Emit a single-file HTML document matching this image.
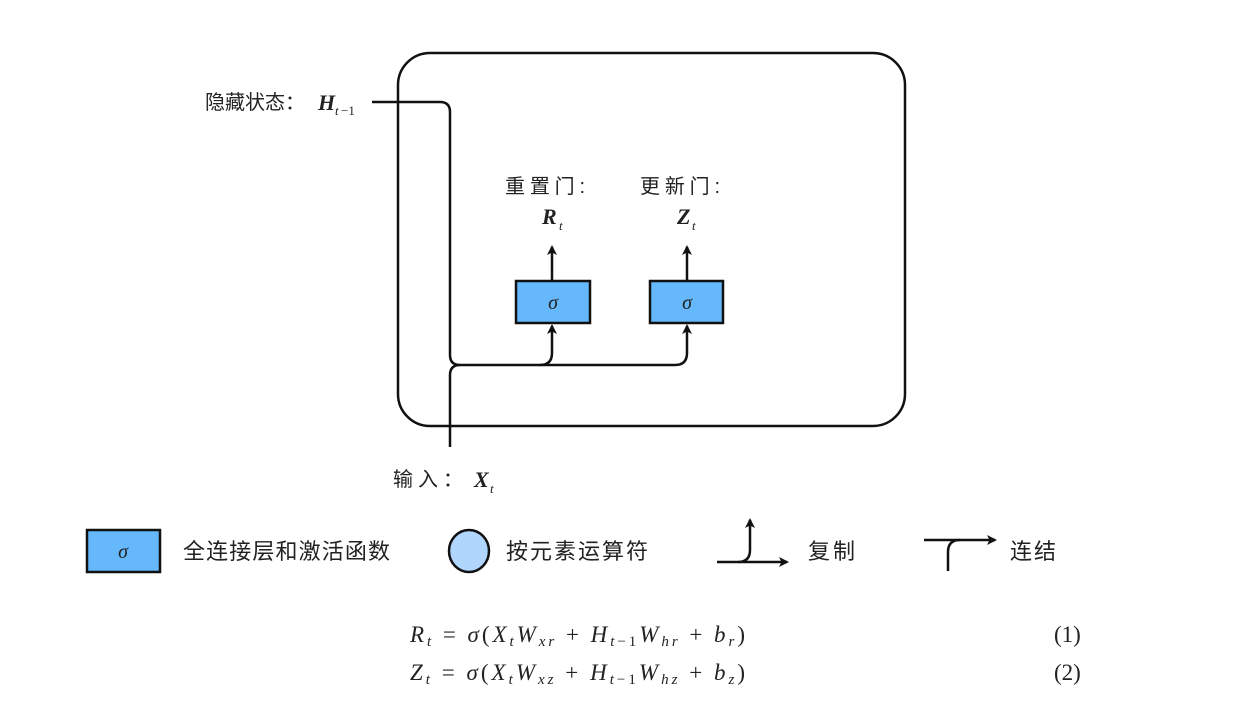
<!DOCTYPE html>
<html><head><meta charset="utf-8"><style>
body{margin:0;background:#fff;width:1242px;height:711px;overflow:hidden}
svg text{font-family:"Liberation Sans","Noto Sans CJK SC",sans-serif;fill:#222}
.m{font-family:"Liberation Serif",serif;font-style:italic;font-weight:bold}
.s{font-family:"Liberation Serif",serif;font-style:italic}
.e{font-family:"Liberation Serif",serif;font-size:23px}
</style></head><body>
<svg width="1242" height="711" viewBox="0 0 1242 711" xmlns="http://www.w3.org/2000/svg">
<defs><marker id="a" markerWidth="10" markerHeight="10" refX="8" refY="5" orient="auto" markerUnits="userSpaceOnUse"><path d="M0,0 L10,5 L0,10 L2.5,5Z" fill="#111"/></marker></defs>
<g fill="none" stroke="#111" stroke-width="2.5">
<rect x="398" y="53" width="507" height="373" rx="32"/>
<path d="M372,102 H440 Q450,102 450,112 V355 Q450,365 460,365 H540 Q552,365 552,353 V326" marker-end="url(#a)"/>
<path d="M540,365 H675 Q687,365 687,353 V326" marker-end="url(#a)"/>
<path d="M450,447 V375 Q450,365 460,365"/>
<path d="M552,281 V247" marker-end="url(#a)"/>
<path d="M687,281 V247" marker-end="url(#a)"/>
<path d="M717,562 H787" marker-end="url(#a)"/>
<path d="M738,562 Q750,562 750,550 V520" marker-end="url(#a)"/>
<path d="M924,540 H995" marker-end="url(#a)"/>
<path d="M948,571 V552 Q948,540 960,540"/>
</g>
<g fill="#64b8fb" stroke="#111" stroke-width="2.5">
<rect x="516" y="281" width="74" height="42"/>
<rect x="650" y="281" width="73" height="42"/>
<rect x="87" y="530" width="73" height="42"/>
</g>
<ellipse cx="469" cy="551" rx="20" ry="21" fill="#b1d6fd" stroke="#111" stroke-width="2.5"/>
<g font-size="20" text-anchor="middle">
<text x="553" y="309" class="s">σ</text>
<text x="687" y="309" class="s">σ</text>
<text x="123" y="558" class="s">σ</text>
</g>
<text x="205" y="109" font-size="20" textLength="100">隐藏状态：</text>
<text x="318" y="110" font-size="22" class="m">H</text><text x="335" y="115" font-size="13" class="s">t</text><text x="341" y="115" font-size="13" style="font-family:'Liberation Serif',serif">−1</text>
<text x="505" y="193" font-size="20" textLength="80">重置门:</text>
<text x="542" y="224" font-size="22" class="m">R</text><text x="559" y="230" font-size="13" class="s">t</text>
<text x="640" y="193" font-size="20" textLength="80">更新门:</text>
<text x="677" y="224" font-size="22" class="m">Z</text><text x="692" y="230" font-size="13" class="s">t</text>
<text x="393" y="486" font-size="20" textLength="70">输入：</text>
<text x="474" y="487" font-size="22" class="m">X</text><text x="490" y="493" font-size="13" class="s">t</text>
<text x="183" y="559" font-size="22" textLength="207">全连接层和激活函数</text>
<text x="506" y="559" font-size="22" textLength="142">按元素运算符</text>
<text x="808" y="559" font-size="22" textLength="47">复制</text>
<text x="1010" y="559" font-size="22" textLength="46">连结</text>
<text x="410" y="642" class="e" textLength="335" lengthAdjust="spacing"><tspan font-style="italic">R</tspan><tspan font-size="15" font-style="italic" dy="4">t</tspan><tspan dy="-4"> = </tspan><tspan font-style="italic">σ</tspan>(<tspan font-style="italic">X</tspan><tspan font-size="15" font-style="italic" dy="4">t</tspan><tspan font-style="italic" dy="-4">W</tspan><tspan font-size="15" font-style="italic" dy="4">xr</tspan><tspan dy="-4"> + </tspan><tspan font-style="italic">H</tspan><tspan font-size="15" dy="4"><tspan font-style="italic">t</tspan>−1</tspan><tspan font-style="italic" dy="-4">W</tspan><tspan font-size="15" font-style="italic" dy="4">hr</tspan><tspan dy="-4"> + </tspan><tspan font-style="italic">b</tspan><tspan font-size="15" font-style="italic" dy="4">r</tspan><tspan dy="-4">)</tspan></text>
<text x="410" y="680" class="e" textLength="335" lengthAdjust="spacing"><tspan font-style="italic">Z</tspan><tspan font-size="15" font-style="italic" dy="4">t</tspan><tspan dy="-4"> = </tspan><tspan font-style="italic">σ</tspan>(<tspan font-style="italic">X</tspan><tspan font-size="15" font-style="italic" dy="4">t</tspan><tspan font-style="italic" dy="-4">W</tspan><tspan font-size="15" font-style="italic" dy="4">xz</tspan><tspan dy="-4"> + </tspan><tspan font-style="italic">H</tspan><tspan font-size="15" dy="4"><tspan font-style="italic">t</tspan>−1</tspan><tspan font-style="italic" dy="-4">W</tspan><tspan font-size="15" font-style="italic" dy="4">hz</tspan><tspan dy="-4"> + </tspan><tspan font-style="italic">b</tspan><tspan font-size="15" font-style="italic" dy="4">z</tspan><tspan dy="-4">)</tspan></text>
<text x="1054" y="642" class="e">(1)</text>
<text x="1054" y="680" class="e">(2)</text>
</svg>
</body></html>
